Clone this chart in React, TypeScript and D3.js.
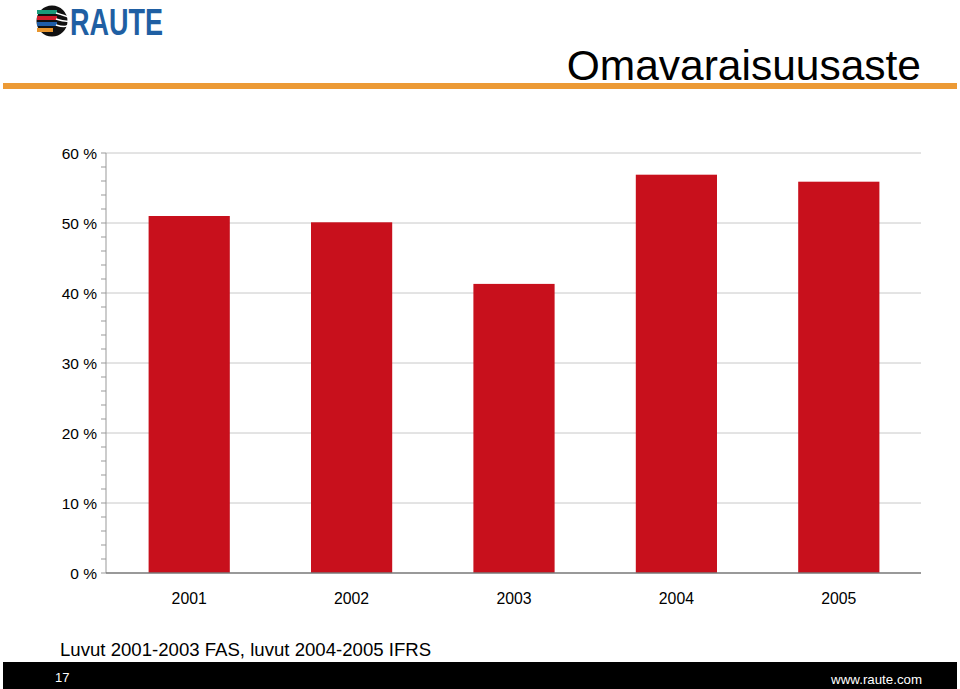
import { useEffect, useRef } from 'react';
import * as d3 from 'd3';

const years = ['2001', '2002', '2003', '2004', '2005'];
const equityRatio = [51.0, 50.1, 41.3, 56.9, 55.9];
const yTicks = [0, 10, 20, 30, 40, 50, 60];

const W = 960;
const H = 689;

export default function App() {
  const svgRef = useRef<SVGSVGElement>(null);

  useEffect(() => {
    if (!svgRef.current) return;
    const svg = d3.select(svgRef.current);
    svg.selectAll('*').remove();
    const font = 'Liberation Sans, Arial, sans-serif';

    // Logo
    const logo = svg.append('g');
    logo.append('circle').attr('cx', 52).attr('cy', 21).attr('r', 15.5).attr('fill', '#111');
    const stripes = ['#1a9a7a', '#d01c2a', '#1f5ea8', '#e8962e'];
    stripes.forEach((c, i) => {
      logo.append('rect').attr('x', 37).attr('y', 10 + i * 6).attr('width', 20 - (i === 3 ? 4 : 0)).attr('height', 4).attr('fill', c);
    });
    [0, 1, 2].forEach(i => {
      logo.append('path')
        .attr('d', `M56 ${13 + i * 6} Q66 ${16 + i * 6} 68 ${21 + (i - 1) * 4}`)
        .attr('stroke', '#fff').attr('stroke-width', 1.6).attr('fill', 'none');
    });
    logo.append('text').attr('x', 70).attr('y', 35)
      .attr('font-family', 'Liberation Sans Narrow, Liberation Sans, Arial, sans-serif')
      .attr('font-weight', 'bold').attr('font-size', 36).attr('fill', '#1f5fa3')
      .attr('textLength', 93).attr('lengthAdjust', 'spacingAndGlyphs')
      .text('RAUTE');

    // Title and orange rule
    svg.append('rect').attr('x', 3).attr('y', 83).attr('width', 954).attr('height', 6).attr('fill', '#ec9a35');
    svg.append('text').attr('x', 921).attr('y', 80).attr('text-anchor', 'end')
      .attr('font-family', font).attr('font-size', 42.5).attr('fill', '#000')
      .text('Omavaraisuusaste');

    // Chart
    const left = 106, right = 921, top = 153, bottom = 573;
    const y = d3.scaleLinear().domain([0, 60]).range([bottom, top]);
    const x = d3.scaleBand().domain(years).range([108, 920]).paddingInner(0.5).paddingOuter(0.25);

    const g = svg.append('g');
    g.selectAll('line.grid').data(yTicks.filter(t => t > 0)).enter().append('line')
      .attr('x1', left).attr('x2', right)
      .attr('y1', d => y(d)).attr('y2', d => y(d))
      .attr('stroke', '#c8c8c8').attr('stroke-width', 1);

    const minor = d3.range(0, 61, 2);
    g.selectAll('line.minor').data(minor).enter().append('line')
      .attr('x1', left - 5).attr('x2', left)
      .attr('y1', d => y(d)).attr('y2', d => y(d))
      .attr('stroke', '#999').attr('stroke-width', 1);

    g.append('line').attr('x1', left).attr('x2', left).attr('y1', top).attr('y2', bottom)
      .attr('stroke', '#999').attr('stroke-width', 1);

    g.selectAll('rect.bar').data(equityRatio).enter().append('rect')
      .attr('x', (_, i) => x(years[i])!)
      .attr('width', x.bandwidth())
      .attr('y', d => y(d))
      .attr('height', d => bottom - y(d))
      .attr('fill', '#c8101c');

    g.append('line').attr('x1', left).attr('x2', right).attr('y1', bottom).attr('y2', bottom)
      .attr('stroke', '#777').attr('stroke-width', 1.5);

    g.selectAll('text.ytick').data(yTicks).enter().append('text')
      .attr('x', 97).attr('y', d => y(d) + 5.5)
      .attr('text-anchor', 'end').attr('font-family', font).attr('font-size', 15.5).attr('fill', '#000')
      .text(d => `${d} %`);

    g.selectAll('text.xtick').data(years).enter().append('text')
      .attr('x', d => x(d)! + x.bandwidth() / 2).attr('y', 604)
      .attr('text-anchor', 'middle').attr('font-family', font).attr('font-size', 15.8).attr('fill', '#000')
      .text(d => d);

    // Footnote
    svg.append('text').attr('x', 60).attr('y', 656)
      .attr('font-family', font).attr('font-size', 18.6).attr('fill', '#000')
      .text('Luvut 2001-2003 FAS, luvut 2004-2005 IFRS');

    // Footer bar
    svg.append('rect').attr('x', 3).attr('y', 662).attr('width', 954).attr('height', 27).attr('fill', '#000');
    svg.append('text').attr('x', 55).attr('y', 682)
      .attr('font-family', font).attr('font-size', 13).attr('fill', '#fff').text('17');
    svg.append('text').attr('x', 922).attr('y', 684).attr('text-anchor', 'end')
      .attr('font-family', font).attr('font-size', 13.3).attr('fill', '#fff').text('www.raute.com');
  }, []);

  return (
    <svg ref={svgRef} width={W} height={H}
      style={{ position: 'absolute', left: 0, top: 0, background: '#fff', display: 'block' }} />
  );
}
